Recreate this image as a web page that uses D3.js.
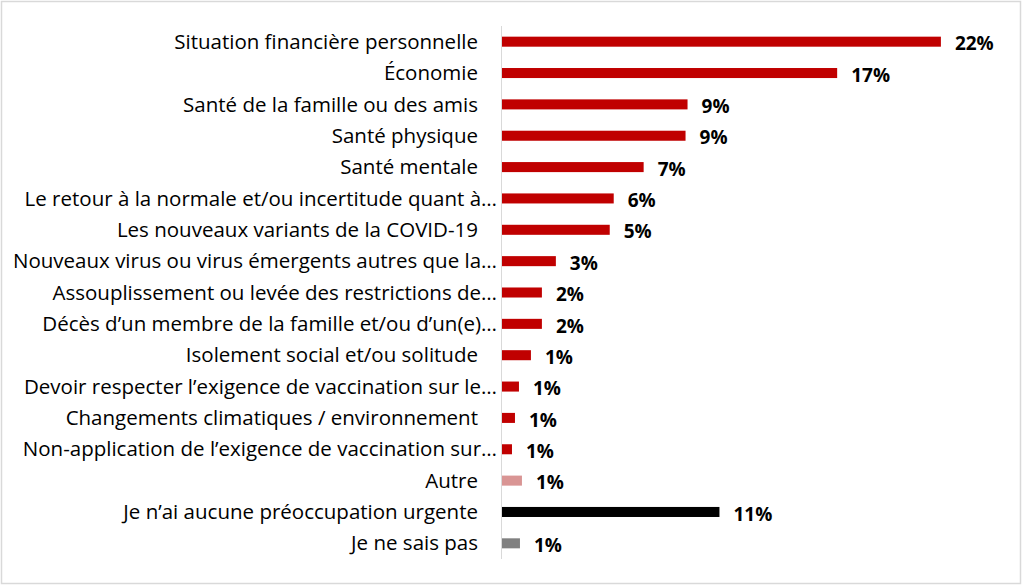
<!DOCTYPE html>
<html><head><meta charset="utf-8">
<script src="https://cdn.jsdelivr.net/npm/d3@7"></script>
<style>html,body{margin:0;padding:0;background:#fff;}svg{display:block;}</style>
</head><body>
<script>
const categories = [
  "Situation financière personnelle",
  "Économie",
  "Santé de la famille ou des amis",
  "Santé physique",
  "Santé mentale",
  "Le retour à la normale et/ou incertitude quant à…",
  "Les nouveaux variants de la COVID-19",
  "Nouveaux virus ou virus émergents autres que la…",
  "Assouplissement ou levée des restrictions de…",
  "Décès d’un membre de la famille et/ou d’un(e)…",
  "Isolement social et/ou solitude",
  "Devoir respecter l’exigence de vaccination sur le…",
  "Changements climatiques / environnement",
  "Non-application de l’exigence de vaccination sur…",
  "Autre",
  "Je n’ai aucune préoccupation urgente",
  "Je ne sais pas"
];
const values = [22.0, 16.8, 9.3, 9.2, 7.1, 5.6, 5.4, 2.7, 2.0, 2.0, 1.45, 0.85, 0.65, 0.5, 1.0, 10.9, 0.9];
const valueLabels = ["22%","17%","9%","9%","7%","6%","5%","3%","2%","2%","1%","1%","1%","1%","1%","11%","1%"];
const groups = ["main","main","main","main","main","main","main","main","main","main","main","main","main","main","other","none","dk"];
const colors = {main:"#C00000", other:"#D99594", none:"#000000", dk:"#808080"};

const W = 1024, H = 587;
const svg = d3.select("body").append("svg").attr("width", W).attr("height", H);
svg.append("rect").attr("x",1.5).attr("y",1.5).attr("width",1019).attr("height",582)
  .attr("fill","#fff").attr("stroke","#D9D9D9").attr("stroke-width",1.5);

const x = d3.scaleLinear().domain([0, 25]).range([502, 502 + 25*19.95]);
const y = d3.scaleBand().domain(categories).range([26, 559]).paddingInner(0.68).paddingOuter(0.34);

const fontCat = "'Open Sans', sans-serif";

svg.selectAll("rect.bar").data(categories).join("rect")
  .attr("class","bar")
  .attr("x", x(0))
  .attr("y", d => y(d))
  .attr("width", (d,i) => x(values[i]) - x(0))
  .attr("height", y.bandwidth())
  .attr("fill", (d,i) => colors[groups[i]]);

svg.append("line").attr("x1", x(0)-0.5).attr("x2", x(0)-0.5).attr("y1", 26).attr("y2", 559)
  .attr("stroke","#D9D9D9").attr("stroke-width",1);

svg.selectAll("text.cat").data(categories).join("text")
  .attr("class","cat")
  .attr("x", d => d.endsWith("…") ? 497 : 478)
  .attr("y", d => y(d) + y.bandwidth()/2)
  .attr("dy","0.35em")
  .attr("text-anchor","end")
  .attr("font-family", fontCat)
  .attr("font-size", 20.5)
  .attr("fill","#000")
  .text(d => d);

svg.selectAll("text.val").data(categories).join("text")
  .attr("class","val")
  .attr("x", (d,i) => x(values[i]) + 14)
  .attr("y", d => y(d) + y.bandwidth()/2 + 2)
  .attr("dy","0.35em")
  .attr("font-family", fontCat)
  .attr("font-weight","bold")
  .attr("font-size", 19)
  .attr("fill","#000")
  .text((d,i) => valueLabels[i]);
</script>
</body></html>
